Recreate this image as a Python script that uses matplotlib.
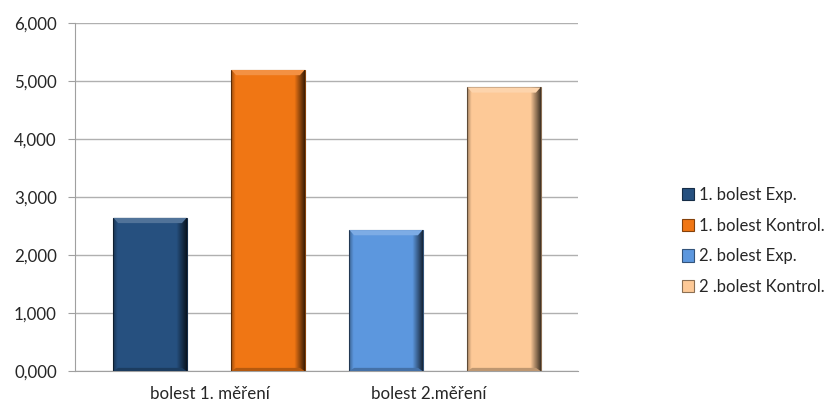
import numpy as np
import matplotlib
matplotlib.use("Agg")
import matplotlib.pyplot as plt
from matplotlib.patches import Polygon

categories = ["bolest 1. měření", "bolest 2.měření"]
series = ["1. bolest Exp.", "1. bolest Kontrol.", "2. bolest Exp.", "2 .bolest Kontrol."]
values = [2.64, 5.19, 2.43, 4.89]
colors = ["#26507f", "#f07614", "#5c97de", "#fdc997"]
yticks = [0, 1, 2, 3, 4, 5, 6]

plt.rcParams["font.family"] = ["Lato", "DejaVu Sans"]

fig = plt.figure(figsize=(8.3, 4.07), dpi=100)
ax = fig.add_axes([75 / 830, 36 / 407, 503 / 830, 348 / 407])

x = np.arange(len(values))
width = 0.62


def shade(c, f):
    rgb = np.array(matplotlib.colors.to_rgb(c))
    if f < 0:
        return tuple(rgb * (1 + f))
    return tuple(rgb + (1 - rgb) * f)


for xi, v, c, lab in zip(x, values, colors, series):
    bar = ax.bar(xi, v, width, color=c, label=lab, zorder=3,
                 edgecolor=shade(c, -0.45), linewidth=0.8)[0]
    # darker rounded edges on the sides
    prof = np.linspace(0, 1, 200)
    alpha = np.clip((prof - 0.86) / 0.14, 0, 1) * 0.75 + np.clip((0.06 - prof) / 0.06, 0, 1) * 0.35
    img = np.zeros((1, 200, 4))
    img[..., 3] = alpha
    im = ax.imshow(img, extent=(xi - width / 2, xi + width / 2, 0, v),
                   aspect="auto", zorder=4, interpolation="bilinear")
    im.set_clip_path(bar)
    # lighter bevel on top, darker one at the foot
    bx = 0.04
    by = 0.09
    top = Polygon([(xi - width / 2, v), (xi + width / 2, v),
                   (xi + width / 2 - bx, v - by), (xi - width / 2 + bx, v - by)],
                  closed=True, facecolor=shade(c, 0.2), edgecolor="none", zorder=5)
    ax.add_patch(top)
    bot = Polygon([(xi - width / 2, 0), (xi + width / 2, 0),
                   (xi + width / 2 - bx, by * 0.6), (xi - width / 2 + bx, by * 0.6)],
                  closed=True, facecolor=shade(c, -0.25), edgecolor="none", zorder=5)
    ax.add_patch(bot)

ax.set_xlim(-0.636, 3.627)
ax.set_ylim(0, 6)
ax.set_yticks(yticks)
ax.set_yticklabels([f"{t:.3f}".replace(".", ",") for t in yticks], fontsize=12.2, color="#262626")
ax.set_xticks([0.51, 2.36])
ax.set_xticklabels(categories, fontsize=12.2, color="#262626")
ax.tick_params(axis="x", length=0, pad=11)
ax.tick_params(axis="y", length=5, color="#a0a0a0", pad=8)
ax.yaxis.grid(True, color="#b0b0b0", linewidth=1, zorder=0)
for s in ["top", "right"]:
    ax.spines[s].set_visible(False)
ax.spines["left"].set_color("#a0a0a0")
ax.spines["bottom"].set_color("#a0a0a0")

leg = fig.legend(loc="center left", bbox_to_anchor=(675 / 830, 1 - 241 / 407),
                 frameon=False, fontsize=12, handlelength=0.75, handleheight=0.75,
                 handletextpad=0.3, labelspacing=0.88, borderaxespad=0.0)
for t in leg.get_texts():
    t.set_color("#262626")

fig.savefig("out.png", dpi=100)
